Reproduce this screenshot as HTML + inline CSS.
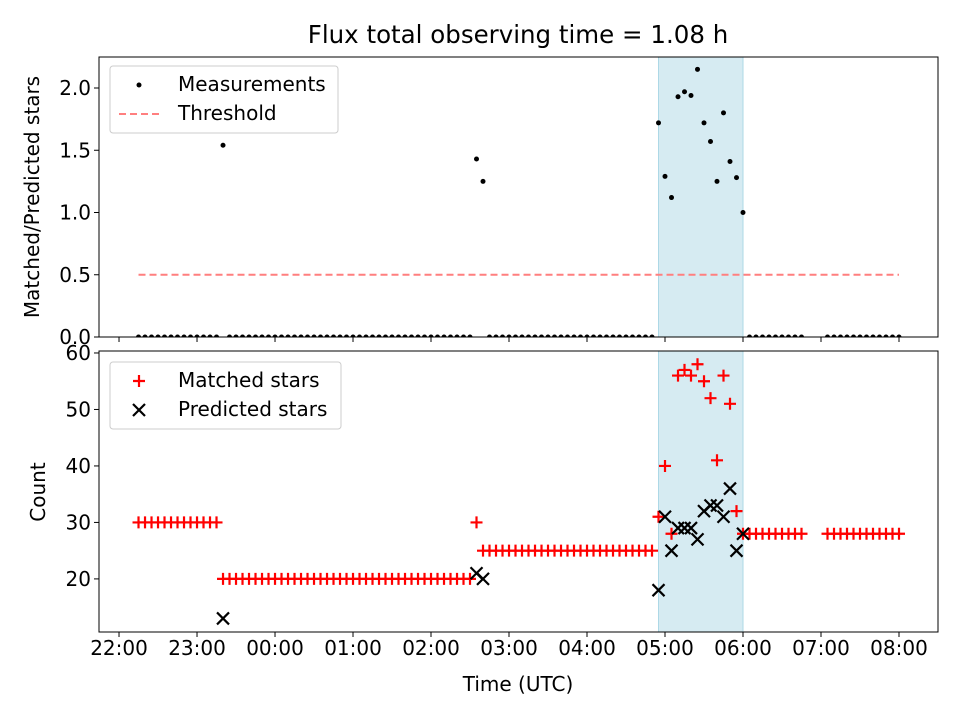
<!DOCTYPE html>
<html><head><meta charset="utf-8"><style>
body{margin:0;background:#fff}
svg text{font-family:"DejaVu Sans","Liberation Sans",sans-serif;fill:#000;font-size:20px}
svg text.title{font-size:24.5px}
</style></head><body>
<svg id="c" width="960" height="720" xmlns="http://www.w3.org/2000/svg"></svg>
<script>
// minutes since 22:00, 5-minute cadence
const times=[];
for(let m=15;m<=600;m+=5){ if(m>=530&&m<=540)continue; times.push(m);}
const specialTimes=[80,275,280,415,420,425,430,435,440,445,450,455,460,465,470,475,480];
const specialMatched=[20,30,25,31,40,28,56,57,56,58,55,52,41,56,51,32,28];
const specialPredicted=[13,21,20,18,31,25,29,29,29,27,32,33,33,31,36,25,28];
const specialRatio=[1.54,1.43,1.25,1.72,1.29,1.12,1.93,1.97,1.94,2.15,1.72,1.57,1.25,1.80,1.41,1.28,1.00];
const levelBreaks=[80,280,485];   // matched level changes
const levelValues=[30,20,25,28];
const threshold=0.5;
const xTickLabels=["22:00","23:00","00:00","01:00","02:00","03:00","04:00","05:00","06:00","07:00","08:00"];
const topTicks=[0.0,0.5,1.0,1.5,2.0];
const botTicks=[20,30,40,50,60];
const shadeStart=415, shadeEnd=480;

const svg=document.getElementById('c');
const NS="http://www.w3.org/2000/svg";
function el(t,a,p){const e=document.createElementNS(NS,t);for(const k in a)e.setAttribute(k,a[k]);(p||svg).appendChild(e);return e;}
const L=99,R=938;
const X=m=>L+(m-(-15.4))/(630-(-15.4))*(R-L);
const T0=57,T1=337, B0=351,B1=632;
const YT=v=>T1-(v-0)/(2.249-0)*(T1-T0);
const YB=v=>B1-(v-10.6)/(60.35-10.6)*(B1-B0);

let s=el('rect',{x:X(shadeStart),y:T0,width:X(shadeEnd)-X(shadeStart),height:T1-T0,fill:'#add8e6','fill-opacity':0.5,stroke:'#add8e6'});

s=el('rect',{x:X(shadeStart),y:B0,width:X(shadeEnd)-X(shadeStart),height:B1-B0,fill:'#add8e6','fill-opacity':0.5,stroke:'#add8e6'});


const defs=el('defs',{});
const c1=el('clipPath',{id:'ct'},defs);el('rect',{x:L,y:T0,width:R-L,height:T1-T0},c1);
const c2=el('clipPath',{id:'cb'},defs);el('rect',{x:L,y:B0,width:R-L,height:B1-B0},c2);
const gT=el('g',{'clip-path':'url(#ct)'});
const gB=el('g',{'clip-path':'url(#cb)'});

let th=el('line',{x1:X(times[0]),x2:X(times[times.length-1]),y1:YT(threshold),y2:YT(threshold),stroke:'#ff7f7f','stroke-width':2,'stroke-dasharray':'7,4'},gT);


function level(m){for(let i=0;i<levelBreaks.length;i++)if(m<levelBreaks[i])return levelValues[i];return levelValues[levelValues.length-1];}
function plus(x,y,g){const p=el('path',{d:`M${x-6},${y}H${x+6}M${x},${y-6}V${y+6}`,stroke:'#f00','stroke-width':2.2},g);}
function cross(x,y,g){const p=el('path',{d:`M${x-6},${y-6}L${x+6},${y+6}M${x+6},${y-6}L${x-6},${y+6}`,stroke:'#000','stroke-width':2.2},g);}
times.forEach(m=>{
  const i=specialTimes.indexOf(m);
  const r=i>=0?specialRatio[i]:0;
  const d=el('circle',{cx:X(m),cy:YT(r),r:2.5,fill:'#000'},gT);
  
  
  plus(X(m),YB(i>=0?specialMatched[i]:level(m)),gB);
});
specialTimes.forEach((m,i)=>cross(X(m),YB(specialPredicted[i]),gB));

let f=el('rect',{x:L,y:T0,width:R-L,height:T1-T0,fill:'none',stroke:'#000','stroke-width':1});
f=el('rect',{x:L,y:B0,width:R-L,height:B1-B0,fill:'none',stroke:'#000','stroke-width':1});

function txt(x,y,s,o,name,cls){const t=el('text',Object.assign({x:x,y:y},o||{}));if(cls)t.setAttribute('class',cls);t.textContent=s;return t;}

xTickLabels.forEach((lab,i)=>{const x=X(i*60);
  el('line',{x1:x,x2:x,y1:T1,y2:T1+5,stroke:'#000'});
  el('line',{x1:x,x2:x,y1:B1,y2:B1+5,stroke:'#000'});
  txt(x,B1+23,lab,{'text-anchor':'middle'},'x-tick-label');
});
topTicks.forEach(v=>{const y=YT(v);el('line',{x1:L-5,x2:L,y1:y,y2:y,stroke:'#000'});
  txt(L-8,y+7,v.toFixed(1),{'text-anchor':'end'},'top-y-tick-label');});
botTicks.forEach(v=>{const y=YB(v);el('line',{x1:L-5,x2:L,y1:y,y2:y,stroke:'#000'});
  txt(L-8,y+7,String(v),{'text-anchor':'end'},'bottom-y-tick-label');});

txt(518,43,'Flux total observing time = 1.08 h',{'text-anchor':'middle'},'chart-title','title');
txt(518,691,'Time (UTC)',{'text-anchor':'middle'},'x-axis-title');
txt(39,197,'Matched/Predicted stars',{'text-anchor':'middle',transform:'rotate(-90 39 197)'},'top-y-axis-title');
txt(45,492,'Count',{'text-anchor':'middle',transform:'rotate(-90 45 492)'},'bottom-y-axis-title');

let lg=el('g',{});
el('rect',{x:110,y:66,width:228,height:67,rx:3,fill:'#fff','fill-opacity':0.8,stroke:'#ccc'},lg);
el('circle',{cx:139,cy:85,r:2.5,fill:'#000'},lg);
txt(178,91,'Measurements',{},'legend-measurements');
el('line',{x1:119,x2:160,y1:114,y2:114,stroke:'#ff7f7f','stroke-width':2,'stroke-dasharray':'7,4'},lg);
txt(178,120,'Threshold',{},'legend-threshold');
lg=el('g',{});
el('rect',{x:110,y:362,width:231,height:67,rx:3,fill:'#fff','fill-opacity':0.8,stroke:'#ccc'},lg);
plus(139,381,lg);
txt(178,387,'Matched stars',{},'legend-matched');
cross(139,410,lg);
txt(178,416,'Predicted stars',{},'legend-predicted');
</script>
</body></html>
